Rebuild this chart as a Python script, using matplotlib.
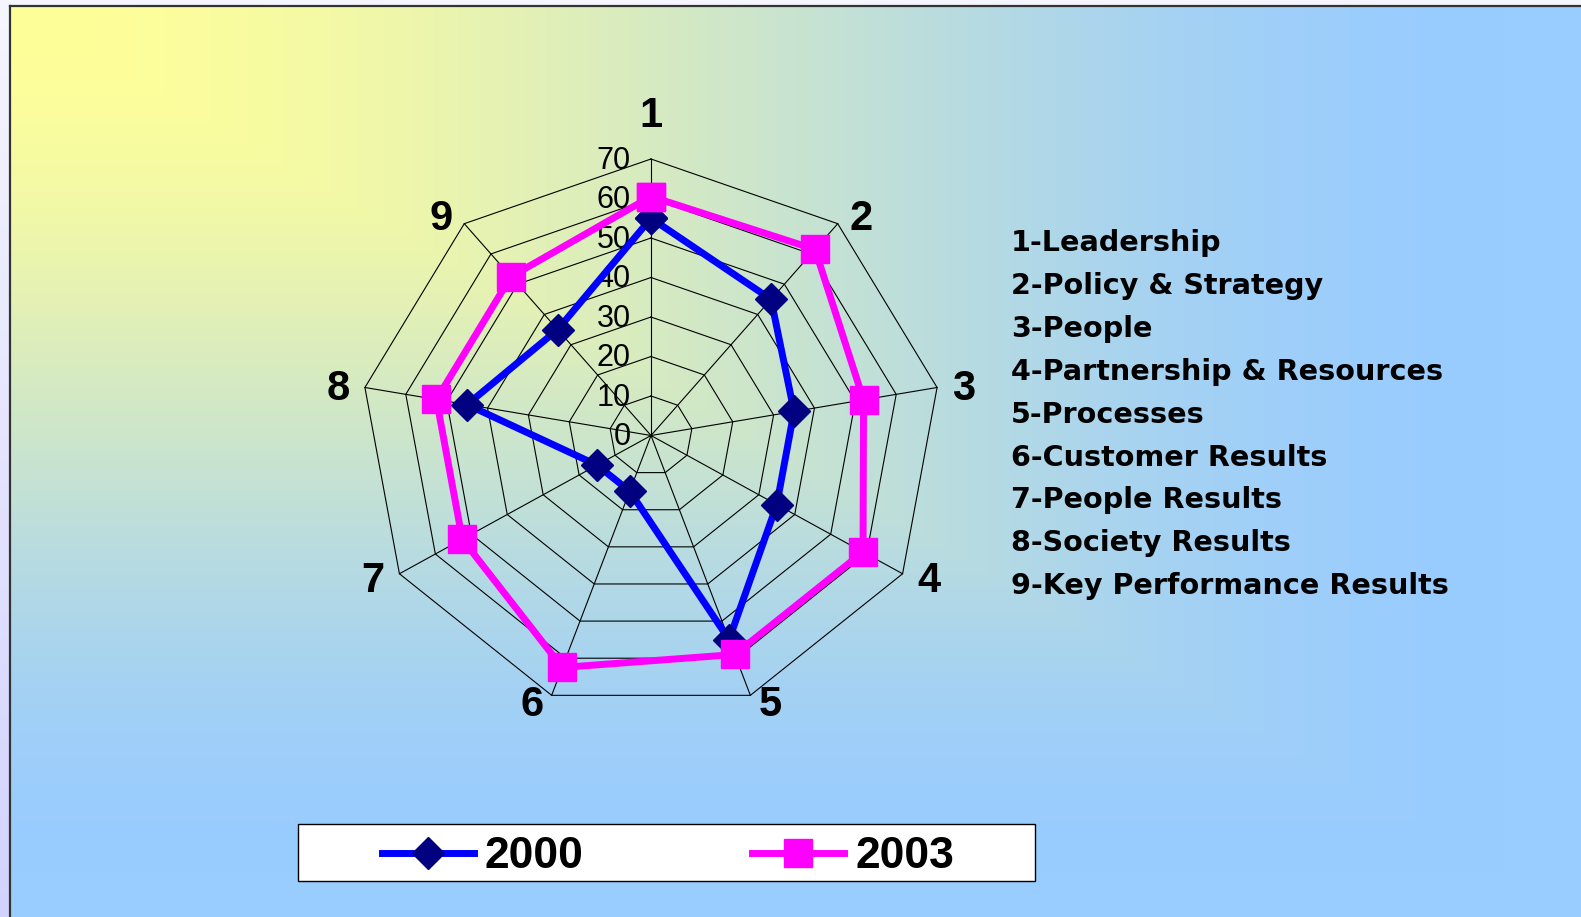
import numpy as np
import matplotlib
matplotlib.use('Agg')
import matplotlib.pyplot as plt
from matplotlib.patches import Rectangle

plt.rcParams['font.family'] = ['Liberation Sans', 'DejaVu Sans']

# --- data
categories = ['1', '2', '3', '4', '5', '6', '7', '8', '9']
category_names = ['1-Leadership', '2-Policy & Strategy', '3-People',
                  '4-Partnership & Resources', '5-Processes', '6-Customer Results',
                  '7-People Results', '8-Society Results', '9-Key Performance Results']
values_2000 = [55, 45, 35, 35, 55, 15, 15, 45, 35]
values_2003 = [60.5, 61.5, 52, 59, 59, 62.5, 52.5, 52.5, 52.5]
ticks = [0, 10, 20, 30, 40, 50, 60, 70]

# where Excel put the category numbers (chart units)
label_x = [0, 50.6, 75.4, 67, 28.7, -28.7, -67, -75.4, -50.6]
label_y = [81.4, 55.4, 12.5, -36.2, -67.6, -67.6, -36.2, 12.5, 55.4]

W, H = 1581, 917
fig = plt.figure(figsize=(W / 100, H / 100), dpi=100)

# --- background: lavender strip + yellow->blue corner gradient
yy, xx = np.mgrid[0:H, 0:W].astype(float)
img = np.zeros((H, W, 3))
top_l = np.array([246, 246, 255]) / 255
bot_l = np.array([210, 210, 255]) / 255
img[:] = top_l + (yy / H)[..., None] * (bot_l - top_l)
u = np.clip((xx - 10) / (W - 10) / 0.95, 0, 1)
v = np.clip((yy - 6) / (H - 6) / 0.95, 0, 1)
t = np.maximum(u, v)
t = t * t * (3 - 2 * t)
yellow = np.array([255, 255, 153]) / 255
blue = np.array([153, 204, 255]) / 255
grad = yellow + t[..., None] * (blue - yellow)
mask = (xx >= 10) & (yy >= 6)
img[mask] = grad[mask]

bg = fig.add_axes([0, 0, 1, 1])
bg.imshow(img, extent=(0, W, H, 0), aspect='auto', interpolation='bilinear')
bg.plot([10, 10], [H, 6], color='#333333', lw=1.6)
bg.plot([10, W], [6, 6], color='#333333', lw=1.6)
bg.set_xlim(0, W)
bg.set_ylim(H, 0)
bg.axis('off')

# --- radar axes (the original is slightly stretched horizontally)
cx, cy = 651, 435.5
px_x, px_y = 4.15, 3.95   # pixels per unit
half_u = 80
ax = fig.add_axes([(cx - half_u * px_x) / W, (H - cy - half_u * px_y) / H,
                   2 * half_u * px_x / W, 2 * half_u * px_y / H])
ax.set_xlim(-half_u, half_u)
ax.set_ylim(-half_u, half_u)
ax.axis('off')

theta = np.deg2rad(np.arange(len(categories)) * 360 / len(categories))
sx, sy = np.sin(theta), np.cos(theta)
ring_x = np.append(sx, sx[0])
ring_y = np.append(sy, sy[0])

for r in ticks[1:]:
    ax.plot(r * ring_x, r * ring_y, color='black', lw=0.8, zorder=1)
for i in range(len(categories)):
    ax.plot([0, ticks[-1] * sx[i]], [0, ticks[-1] * sy[i]], color='black', lw=0.8, zorder=1)

for r in ticks:
    ax.text(-4.9, r + 0.4, str(r), ha='right', va='center_baseline', fontsize=22, zorder=2)

for i, c in enumerate(categories):
    ax.text(label_x[i], label_y[i] + 0.5, c, ha='center', va='center_baseline',
            fontsize=30, fontweight='bold', clip_on=False)

v0 = np.array(values_2000 + values_2000[:1])
v3 = np.array(values_2003 + values_2003[:1])
l0, = ax.plot(v0 * ring_x, v0 * ring_y, color='#0000ff', lw=5, marker='D', ms=16,
              markerfacecolor='#000080', markeredgecolor='#000080', zorder=3, clip_on=False)
l3, = ax.plot(v3 * ring_x, v3 * ring_y, color='#ff00ff', lw=5, marker='s', ms=20,
              markerfacecolor='#ff00ff', markeredgecolor='#ff00ff', zorder=4, clip_on=False)

# --- category names on the right
for i, name in enumerate(category_names):
    fig.text(1011 / W, 1 - (240 + i * 42.9) / H, name, ha='left', va='center_baseline',
             fontsize=20.6, fontweight='bold', family='DejaVu Sans')

# --- legend box at the bottom
box = Rectangle((298 / W, 1 - 881 / H), 737 / W, 57 / H, transform=fig.transFigure,
                facecolor='white', edgecolor='black', lw=1, zorder=2)
fig.add_artist(box)
fig.legend([l0, l3], ['2000', '2003'], loc='center',
           bbox_to_anchor=((298 + 370) / W, 1 - 857 / H), ncol=2, frameon=False,
           prop={'size': 32, 'weight': 'bold'}, handlelength=2.07, handletextpad=0.25,
           columnspacing=3.8)

fig.savefig('out.png', dpi=100)
